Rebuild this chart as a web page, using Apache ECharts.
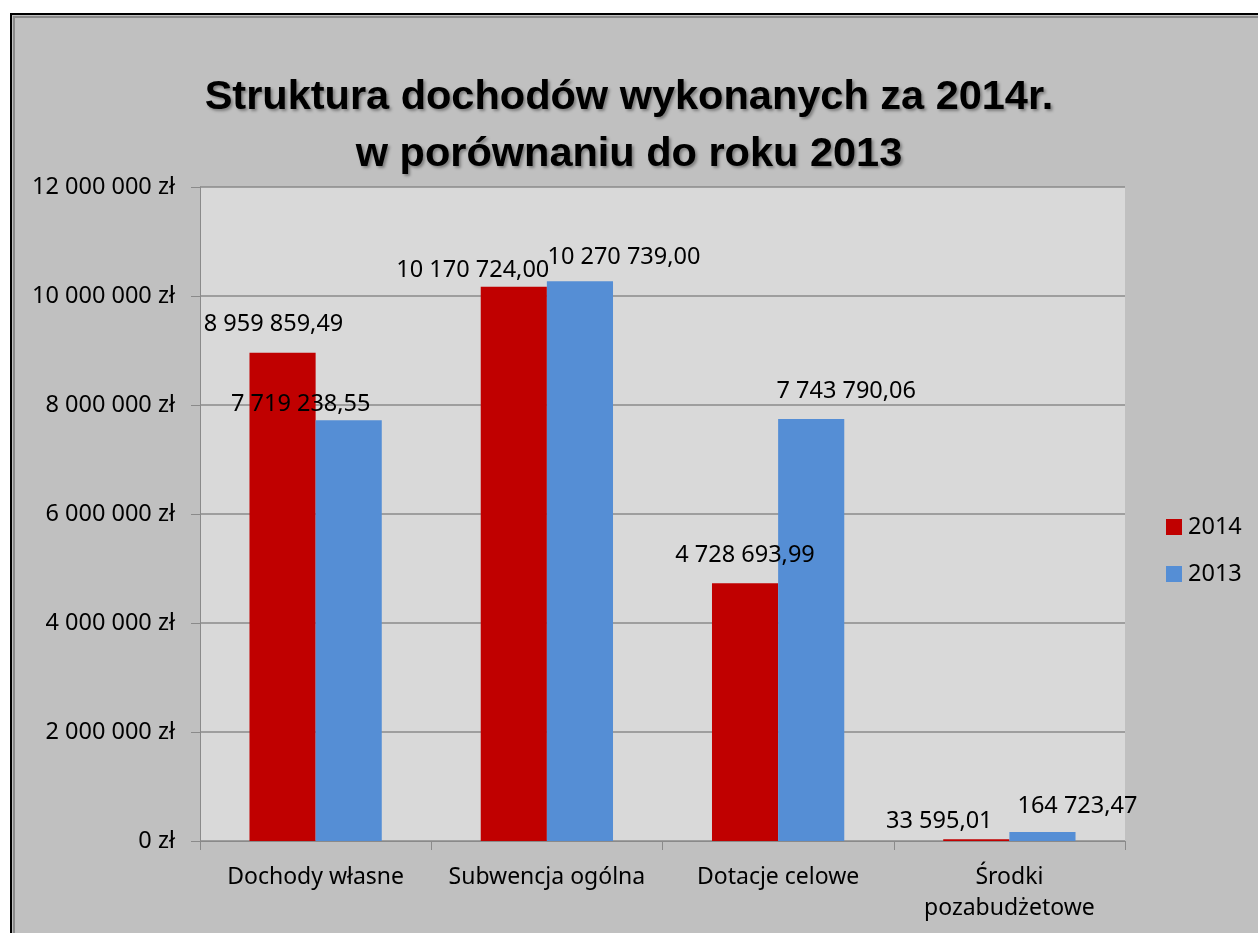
<!DOCTYPE html>
<html>
<head>
<meta charset="utf-8">
<script src="https://cdn.jsdelivr.net/npm/echarts@6/dist/echarts.min.js"></script>
<style>
html,body{margin:0;padding:0;background:#fff;}
#chart{position:absolute;left:0;top:0;width:1258px;height:933px;}
</style>
</head>
<body>
<div id="chart"></div>
<script>
const titleText = 'Struktura dochodów wykonanych za 2014r.\nw porównaniu do roku 2013';
const categories = ['Dochody własne', 'Subwencja ogólna', 'Dotacje celowe', 'Środki\npozabudżetowe'];
const seriesNames = ['2014', '2013'];
const values2014 = [8959859.49, 10170724.00, 4728693.99, 33595.01];
const values2013 = [7719238.55, 10270739.00, 7743790.06, 164723.47];
const yTicks = [0, 2000000, 4000000, 6000000, 8000000, 10000000, 12000000];

// label displacement (style only)
const offsets2014 = [[-9, -11], [-41, 1], [0, -11], [-37, -1]];
const offsets2013 = [[-48, 1], [44, -7], [35, -11], [35, -9]];

function groupThousands(s) {
  return s.replace(/\B(?=(\d{3})+(?!\d))/g, ' ');
}
function fmtMoney(v) {
  const parts = v.toFixed(2).split('.');
  return groupThousands(parts[0]) + ',' + parts[1];
}
function fmtAxis(v) {
  return groupThousands(String(Math.round(v))) + ' zł';
}

const FONT = 'Noto Sans';
const FS = 23.5;
const GRAY = '#8a8a8a';

function buildData(vals, offs) {
  return vals.map((v, i) => ({
    value: v,
    label: { offset: offs[i] }
  }));
}

const chart = echarts.init(document.getElementById('chart'), null, { renderer: 'canvas' });
chart.setOption({
  backgroundColor: '#ffffff',
  animation: false,
  graphic: [
    { type: 'rect', z: -10, shape: { x: 11, y: 14, width: 1300, height: 1000 },
      style: { fill: '#c0c0c0', stroke: '#000', lineWidth: 2 } },
    { type: 'polyline', z: -9, shape: { points: [[14, 1000], [14, 17], [1300, 17]] },
      style: { stroke: '#8a8a8a', lineWidth: 2, fill: null } }
  ],
  title: {
    text: titleText,
    left: 'center',
    top: 64,
    textStyle: {
      fontFamily: 'Liberation Sans',
      fontWeight: 'bold',
      fontSize: 41.5,
      lineHeight: 57,
      color: '#000',
      textShadowColor: 'rgba(0,0,0,0.35)',
      textShadowBlur: 3,
      textShadowOffsetX: 2,
      textShadowOffsetY: 2
    }
  },
  legend: {
    orient: 'vertical',
    left: 1161,
    top: 510,
    itemWidth: 16,
    itemHeight: 16,
    itemGap: 23,
    icon: 'rect',
    data: seriesNames,
    textStyle: { fontFamily: FONT, fontSize: FS, color: '#000', padding: [0, 0, 0, 1] }
  },
  grid: {
    left: 200, top: 187, right: 133, bottom: 92,
    show: true, backgroundColor: '#d9d9d9', borderWidth: 0,
    containLabel: false
  },
  xAxis: {
    type: 'category',
    data: categories,
    axisLine: { show: true, lineStyle: { color: GRAY, width: 1 } },
    axisTick: { show: true, length: 9, alignWithLabel: false, lineStyle: { color: GRAY } },
    axisLabel: {
      interval: 0, margin: 21,
      fontFamily: FONT, fontSize: 23, lineHeight: 31, color: '#000'
    }
  },
  yAxis: {
    type: 'value',
    min: yTicks[0],
    max: yTicks[yTicks.length - 1],
    interval: yTicks[1] - yTicks[0],
    axisLine: { show: true, lineStyle: { color: GRAY, width: 1 } },
    axisTick: { show: true, length: 9, lineStyle: { color: GRAY } },
    splitLine: { show: true, lineStyle: { color: GRAY, width: 1.5 } },
    axisLabel: {
      margin: 25, formatter: fmtAxis,
      fontFamily: FONT, fontSize: FS, color: '#000'
    }
  },
  series: [
    {
      name: seriesNames[0], type: 'bar',
      data: buildData(values2014, offsets2014),
      itemStyle: { color: '#c00000' },
      barGap: '0%', barCategoryGap: '42.8%',
      label: { show: true, position: 'top', distance: 5, formatter: p => fmtMoney(p.value),
        fontFamily: FONT, fontSize: FS, color: '#000' }
    },
    {
      name: seriesNames[1], type: 'bar',
      data: buildData(values2013, offsets2013),
      itemStyle: { color: '#558ed5' },
      barGap: '0%', barCategoryGap: '42.8%',
      label: { show: true, position: 'top', distance: 5, formatter: p => fmtMoney(p.value),
        fontFamily: FONT, fontSize: FS, color: '#000' }
    }
  ]
});
</script>
</body>
</html>
